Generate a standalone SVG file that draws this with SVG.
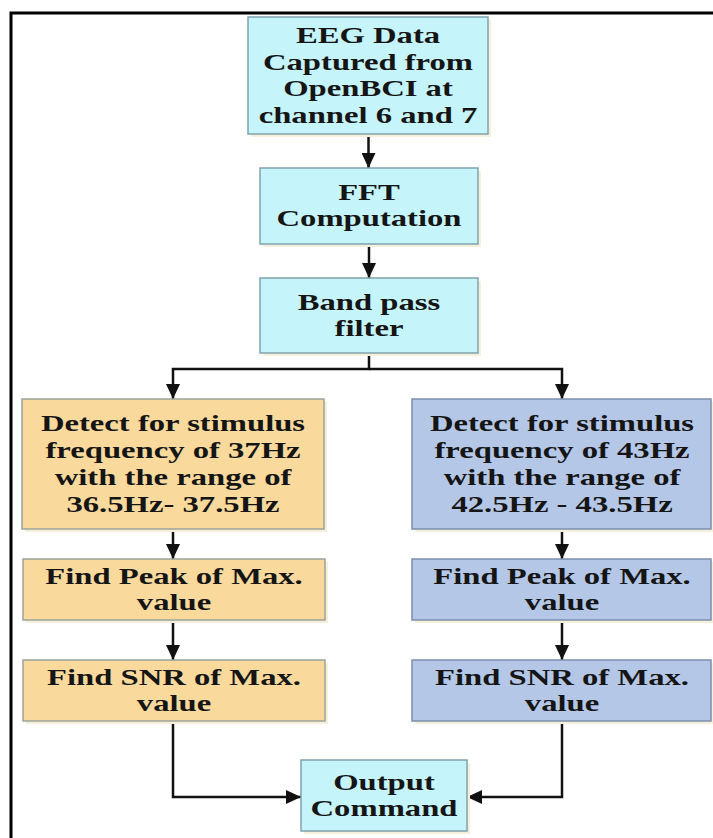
<svg xmlns="http://www.w3.org/2000/svg" width="713" height="838" viewBox="0 0 713 838">
<style>
.t{font-family:"Liberation Serif","Times New Roman",serif;font-weight:bold;font-size:23px;fill:#151515;text-anchor:middle}
.cy{fill:#c6f4fb;stroke:#7fa3ad;stroke-width:1.5}
.or{fill:#f9d99c;stroke:#9aa39a;stroke-width:1.5}
.bl{fill:#b4c7e7;stroke:#7c8fae;stroke-width:1.5}
.sh{fill:#f5efdb}
.c{fill:none;stroke:#111;stroke-width:2.5}
</style>
<defs>
<marker id="ah" viewBox="0 0 15 14" refX="15" refY="7" markerWidth="15" markerHeight="14" markerUnits="userSpaceOnUse" orient="auto">
<path d="M0,0 L15,7 L0,14 Z" fill="#111"/>
</marker>
</defs>
<rect width="713" height="838" fill="#fff"/>
<path d="M11,838 V13 H713" fill="none" stroke="#000" stroke-width="3"/>

<g id="connectors">
<path class="c" d="M368.5,134 V168" marker-end="url(#ah)"/>
<path class="c" d="M369,244 V278" marker-end="url(#ah)"/>
<path class="c" d="M369,353 V369 H173 V399" marker-end="url(#ah)"/>
<path class="c" d="M369,369 H562 V399" marker-end="url(#ah)"/>
<path class="c" d="M173,529 V559" marker-end="url(#ah)"/>
<path class="c" d="M562,529 V559" marker-end="url(#ah)"/>
<path class="c" d="M173,620 V660" marker-end="url(#ah)"/>
<path class="c" d="M562,620 V660" marker-end="url(#ah)"/>
<path class="c" d="M173,721 V797 H301" marker-end="url(#ah)"/>
<path class="c" d="M562,721 V797 H467" marker-end="url(#ah)"/>
</g>

<g id="eeg">
<rect class="sh" x="251" y="20" width="240" height="117"/>
<rect class="cy" x="248" y="17" width="240" height="117"/>
<text class="t" transform="translate(368,0) scale(1.42,1)"><tspan x="0" y="43">EEG Data</tspan><tspan x="0" y="69.7">Captured from</tspan><tspan x="0" y="96.4">OpenBCI at</tspan><tspan x="0" y="123">channel 6 and 7</tspan></text>
</g>

<g id="fft">
<rect class="sh" x="263" y="171" width="218" height="76"/>
<rect class="cy" x="260" y="168" width="218" height="76"/>
<text class="t" transform="translate(369,0) scale(1.42,1)"><tspan x="0" y="200">FFT</tspan><tspan x="0" y="226.5">Computation</tspan></text>
</g>

<g id="bandpass">
<rect class="sh" x="263" y="281" width="218" height="75"/>
<rect class="cy" x="260" y="278" width="218" height="75"/>
<text class="t" transform="translate(369,0) scale(1.42,1)"><tspan x="0" y="310">Band pass</tspan><tspan x="0" y="336.5">filter</tspan></text>
</g>

<g id="detect37">
<rect class="sh" x="25" y="402" width="302" height="130"/>
<rect class="or" x="22" y="399" width="302" height="130"/>
<text class="t" transform="translate(173,0) scale(1.42,1)"><tspan x="0" y="431.5">Detect for stimulus</tspan><tspan x="0" y="458.2">frequency of 37Hz</tspan><tspan x="0" y="484.9">with the range of</tspan><tspan x="0" y="511.6">36.5Hz- 37.5Hz</tspan></text>
</g>

<g id="detect43">
<rect class="sh" x="415" y="402" width="298" height="130"/>
<rect class="bl" x="412" y="399" width="299" height="130"/>
<text class="t" transform="translate(562,0) scale(1.42,1)"><tspan x="0" y="431.5">Detect for stimulus</tspan><tspan x="0" y="458.2">frequency of 43Hz</tspan><tspan x="0" y="484.9">with the range of</tspan><tspan x="0" y="511.6">42.5Hz - 43.5Hz</tspan></text>
</g>

<g id="peak37">
<rect class="sh" x="26" y="562" width="302" height="61"/>
<rect class="or" x="23" y="559" width="302" height="61"/>
<text class="t" transform="translate(174,0) scale(1.42,1)"><tspan x="0" y="583.8">Find Peak of Max.</tspan><tspan x="0" y="610.3">value</tspan></text>
</g>

<g id="peak43">
<rect class="sh" x="415" y="562" width="298" height="61"/>
<rect class="bl" x="412" y="559" width="299" height="61"/>
<text class="t" transform="translate(562,0) scale(1.42,1)"><tspan x="0" y="583.8">Find Peak of Max.</tspan><tspan x="0" y="610.3">value</tspan></text>
</g>

<g id="snr37">
<rect class="sh" x="26" y="663" width="302" height="61"/>
<rect class="or" x="23" y="660" width="302" height="61"/>
<text class="t" transform="translate(174,0) scale(1.42,1)"><tspan x="0" y="684.8">Find SNR of Max.</tspan><tspan x="0" y="711.3">value</tspan></text>
</g>

<g id="snr43">
<rect class="sh" x="415" y="663" width="298" height="61"/>
<rect class="bl" x="412" y="660" width="299" height="61"/>
<text class="t" transform="translate(562,0) scale(1.42,1)"><tspan x="0" y="684.8">Find SNR of Max.</tspan><tspan x="0" y="711.3">value</tspan></text>
</g>

<g id="output">
<rect class="sh" x="304" y="763" width="166" height="71"/>
<rect class="cy" x="301" y="760" width="166" height="71"/>
<text class="t" transform="translate(384,0) scale(1.42,1)"><tspan x="0" y="789.8">Output</tspan><tspan x="0" y="816.3">Command</tspan></text>
</g>
</svg>
